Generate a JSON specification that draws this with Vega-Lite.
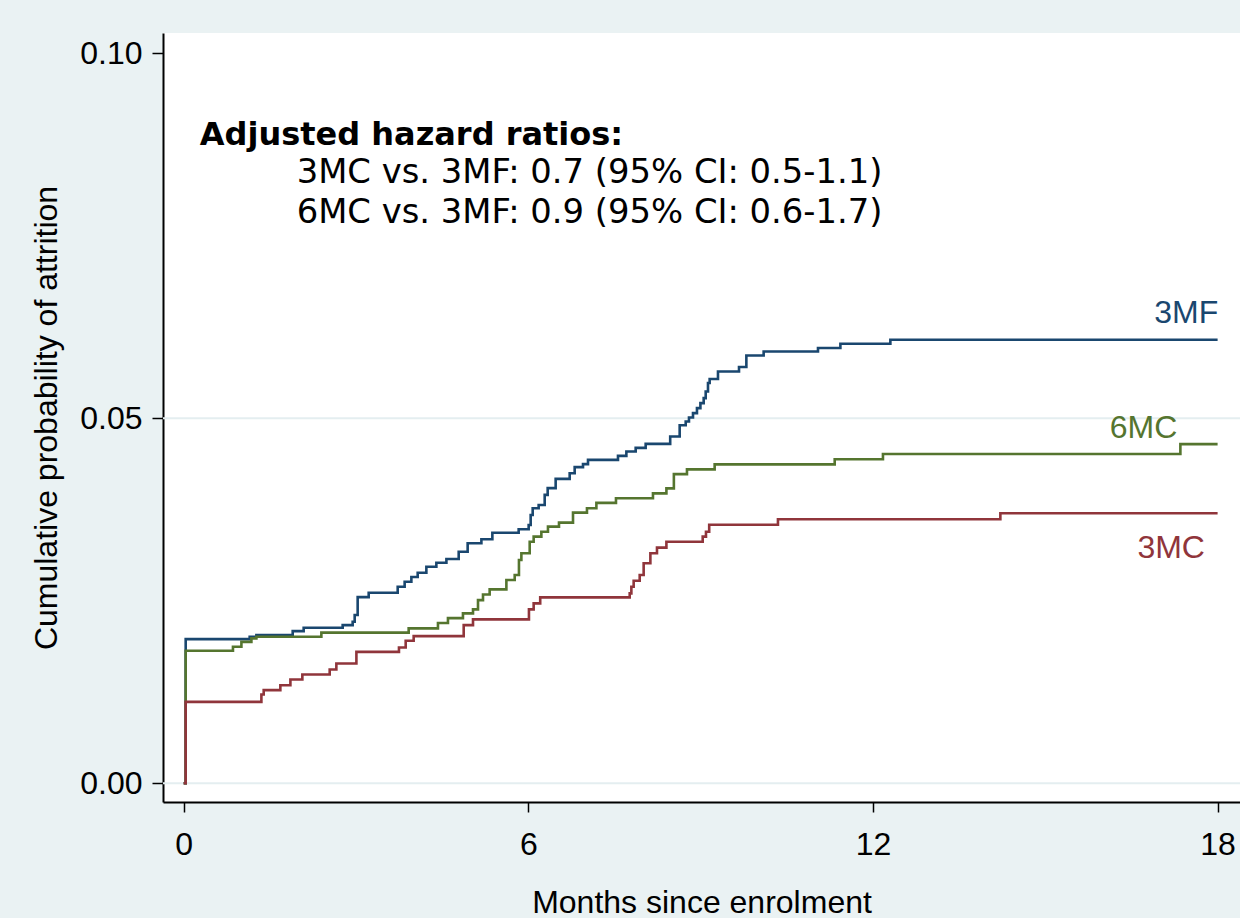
{
  "$schema": "https://vega.github.io/schema/vega-lite/v6.json",
  "width": 1077,
  "height": 769,
  "autosize": {"type": "none"},
  "padding": {"left": 163, "top": 33, "right": 0, "bottom": 116},
  "background": "#EAF2F3",
  "view": {"stroke": null, "fill": "white"},
  "config": {
    "axis": {
      "labelFont": "Liberation Sans", "titleFont": "Liberation Sans",
      "labelFontSize": 32, "titleFontSize": 32, "titleFontWeight": "normal",
      "labelColor": "black", "titleColor": "black",
      "domainColor": "black", "domainWidth": 2, "tickColor": "black", "tickWidth": 1.5
    }
  },
  "datasets": {
    "curves": [
      {"group": "3MF", "month": 0, "prob": 0},
      {"group": "3MF", "month": 0.035, "prob": 0.01975},
      {"group": "3MF", "month": 1.149, "prob": 0.02007},
      {"group": "3MF", "month": 1.266, "prob": 0.0203},
      {"group": "3MF", "month": 1.898, "prob": 0.02085},
      {"group": "3MF", "month": 2.089, "prob": 0.0213},
      {"group": "3MF", "month": 2.768, "prob": 0.02167},
      {"group": "3MF", "month": 2.942, "prob": 0.02213},
      {"group": "3MF", "month": 2.977, "prob": 0.02305},
      {"group": "3MF", "month": 3.029, "prob": 0.02551},
      {"group": "3MF", "month": 3.221, "prob": 0.0261},
      {"group": "3MF", "month": 3.726, "prob": 0.02693},
      {"group": "3MF", "month": 3.847, "prob": 0.02761},
      {"group": "3MF", "month": 3.964, "prob": 0.02826},
      {"group": "3MF", "month": 4.074, "prob": 0.02885},
      {"group": "3MF", "month": 4.225, "prob": 0.02967},
      {"group": "3MF", "month": 4.399, "prob": 0.03022},
      {"group": "3MF", "month": 4.574, "prob": 0.03073},
      {"group": "3MF", "month": 4.788, "prob": 0.03173},
      {"group": "3MF", "month": 4.944, "prob": 0.03288},
      {"group": "3MF", "month": 5.183, "prob": 0.03343},
      {"group": "3MF", "month": 5.374, "prob": 0.03433},
      {"group": "3MF", "month": 5.832, "prob": 0.0348},
      {"group": "3MF", "month": 6.006, "prob": 0.03539},
      {"group": "3MF", "month": 6.041, "prob": 0.03676},
      {"group": "3MF", "month": 6.076, "prob": 0.03768},
      {"group": "3MF", "month": 6.18, "prob": 0.03813},
      {"group": "3MF", "month": 6.285, "prob": 0.03951},
      {"group": "3MF", "month": 6.337, "prob": 0.04043},
      {"group": "3MF", "month": 6.476, "prob": 0.0417},
      {"group": "3MF", "month": 6.72, "prob": 0.04248},
      {"group": "3MF", "month": 6.807, "prob": 0.04331},
      {"group": "3MF", "month": 6.952, "prob": 0.04372},
      {"group": "3MF", "month": 7.039, "prob": 0.04431},
      {"group": "3MF", "month": 7.561, "prob": 0.04486},
      {"group": "3MF", "month": 7.707, "prob": 0.04545},
      {"group": "3MF", "month": 7.869, "prob": 0.04595},
      {"group": "3MF", "month": 8.043, "prob": 0.0465},
      {"group": "3MF", "month": 8.47, "prob": 0.0475},
      {"group": "3MF", "month": 8.635, "prob": 0.04904},
      {"group": "3MF", "month": 8.74, "prob": 0.04956},
      {"group": "3MF", "month": 8.797, "prob": 0.05011},
      {"group": "3MF", "month": 8.867, "prob": 0.05071},
      {"group": "3MF", "month": 8.936, "prob": 0.0514},
      {"group": "3MF", "month": 8.996, "prob": 0.05208},
      {"group": "3MF", "month": 9.053, "prob": 0.05277},
      {"group": "3MF", "month": 9.088, "prob": 0.05368},
      {"group": "3MF", "month": 9.128, "prob": 0.05483},
      {"group": "3MF", "month": 9.157, "prob": 0.05538},
      {"group": "3MF", "month": 9.302, "prob": 0.05642},
      {"group": "3MF", "month": 9.668, "prob": 0.05702},
      {"group": "3MF", "month": 9.796, "prob": 0.05861},
      {"group": "3MF", "month": 10.097, "prob": 0.05916},
      {"group": "3MF", "month": 11.043, "prob": 0.05963},
      {"group": "3MF", "month": 11.433, "prob": 0.06022},
      {"group": "3MF", "month": 12.303, "prob": 0.06077},
      {"group": "3MF", "month": 18, "prob": 0.06077},
      {"group": "6MC", "month": 0, "prob": 0},
      {"group": "6MC", "month": 0.035, "prob": 0.01815},
      {"group": "6MC", "month": 0.858, "prob": 0.0187},
      {"group": "6MC", "month": 1.005, "prob": 0.01938},
      {"group": "6MC", "month": 1.179, "prob": 0.01985},
      {"group": "6MC", "month": 1.266, "prob": 0.02007},
      {"group": "6MC", "month": 2.397, "prob": 0.02064},
      {"group": "6MC", "month": 3.917, "prob": 0.02122},
      {"group": "6MC", "month": 4.427, "prob": 0.02195},
      {"group": "6MC", "month": 4.601, "prob": 0.02263},
      {"group": "6MC", "month": 4.862, "prob": 0.02328},
      {"group": "6MC", "month": 5.037, "prob": 0.02383},
      {"group": "6MC", "month": 5.124, "prob": 0.0251},
      {"group": "6MC", "month": 5.211, "prob": 0.02586},
      {"group": "6MC", "month": 5.327, "prob": 0.02657},
      {"group": "6MC", "month": 5.618, "prob": 0.02785},
      {"group": "6MC", "month": 5.763, "prob": 0.02853},
      {"group": "6MC", "month": 5.837, "prob": 0.03059},
      {"group": "6MC", "month": 5.879, "prob": 0.03151},
      {"group": "6MC", "month": 6.024, "prob": 0.0331},
      {"group": "6MC", "month": 6.093, "prob": 0.03379},
      {"group": "6MC", "month": 6.227, "prob": 0.03447},
      {"group": "6MC", "month": 6.342, "prob": 0.03516},
      {"group": "6MC", "month": 6.534, "prob": 0.03571},
      {"group": "6MC", "month": 6.778, "prob": 0.03708},
      {"group": "6MC", "month": 7.021, "prob": 0.03768},
      {"group": "6MC", "month": 7.185, "prob": 0.03841},
      {"group": "6MC", "month": 7.526, "prob": 0.03905},
      {"group": "6MC", "month": 8.17, "prob": 0.03971},
      {"group": "6MC", "month": 8.404, "prob": 0.0404},
      {"group": "6MC", "month": 8.534, "prob": 0.04236},
      {"group": "6MC", "month": 8.762, "prob": 0.043},
      {"group": "6MC", "month": 9.244, "prob": 0.04369},
      {"group": "6MC", "month": 11.334, "prob": 0.0444},
      {"group": "6MC", "month": 12.174, "prob": 0.0451},
      {"group": "6MC", "month": 17.352, "prob": 0.04646},
      {"group": "6MC", "month": 18, "prob": 0.04646},
      {"group": "3MC", "month": 0, "prob": 0},
      {"group": "3MC", "month": 0.035, "prob": 0.01115},
      {"group": "3MC", "month": 1.353, "prob": 0.01217},
      {"group": "3MC", "month": 1.393, "prob": 0.01276},
      {"group": "3MC", "month": 1.683, "prob": 0.01344},
      {"group": "3MC", "month": 1.858, "prob": 0.01422},
      {"group": "3MC", "month": 2.066, "prob": 0.01491},
      {"group": "3MC", "month": 2.542, "prob": 0.0156},
      {"group": "3MC", "month": 2.658, "prob": 0.01642},
      {"group": "3MC", "month": 3.007, "prob": 0.01801},
      {"group": "3MC", "month": 3.748, "prob": 0.01861},
      {"group": "3MC", "month": 3.865, "prob": 0.01952},
      {"group": "3MC", "month": 4.004, "prob": 0.02016},
      {"group": "3MC", "month": 4.875, "prob": 0.02167},
      {"group": "3MC", "month": 5.037, "prob": 0.02246},
      {"group": "3MC", "month": 6.011, "prob": 0.02383},
      {"group": "3MC", "month": 6.093, "prob": 0.02465},
      {"group": "3MC", "month": 6.207, "prob": 0.02547},
      {"group": "3MC", "month": 7.765, "prob": 0.02602},
      {"group": "3MC", "month": 7.794, "prob": 0.02693},
      {"group": "3MC", "month": 7.834, "prob": 0.02775},
      {"group": "3MC", "month": 7.939, "prob": 0.02853},
      {"group": "3MC", "month": 8.008, "prob": 0.03014},
      {"group": "3MC", "month": 8.125, "prob": 0.03151},
      {"group": "3MC", "month": 8.24, "prob": 0.03228},
      {"group": "3MC", "month": 8.404, "prob": 0.0331},
      {"group": "3MC", "month": 9.036, "prob": 0.03379},
      {"group": "3MC", "month": 9.093, "prob": 0.03447},
      {"group": "3MC", "month": 9.149, "prob": 0.03542},
      {"group": "3MC", "month": 10.346, "prob": 0.03617},
      {"group": "3MC", "month": 14.218, "prob": 0.037},
      {"group": "3MC", "month": 18, "prob": 0.037}
    ],
    "grid": [
      {"prob": 0},
      {"prob": 0.05}
    ],
    "labels": [
      {"group": "3MF", "month": 18.01, "prob": 0.0631},
      {"group": "6MC", "month": 17.3, "prob": 0.04733},
      {"group": "3MC", "month": 17.78, "prob": 0.03089}
    ],
    "heading": [
      {"text": "Adjusted hazard ratios:", "month": 0.28, "prob": 0.0874}
    ],
    "ratios": [
      {"text": "3MC vs. 3MF: 0.7 (95% CI: 0.5-1.1)", "month": 1.967, "prob": 0.0823},
      {"text": "6MC vs. 3MF: 0.9 (95% CI: 0.6-1.7)", "month": 1.967, "prob": 0.0768}
    ]
  },
  "encoding": {
    "x": {
      "field": "month", "type": "quantitative",
      "scale": {"domain": [-0.36, 18.39], "nice": false, "zero": false},
      "axis": {"title": "Months since enrolment", "values": [0, 6, 12, 18], "format": "d",
               "grid": false, "tickSize": 10, "labelPadding": 17, "titlePadding": 27,
               "labelFlush": false}
    },
    "y": {
      "field": "prob", "type": "quantitative",
      "scale": {"domain": [-0.00256, 0.10278], "nice": false, "zero": false},
      "axis": {"title": "Cumulative probability of attrition", "values": [0, 0.05, 0.1], "format": ".2f",
               "grid": false, "tickSize": 11, "labelPadding": 10, "titlePadding": 16, "labelFlush": false}
    }
  },
  "layer": [
    {
      "data": {"name": "grid"},
      "mark": {"type": "rule", "color": "#E4EEF0", "strokeWidth": 2},
      "encoding": {"x": null}
    },
    {
      "data": {"name": "curves"},
      "mark": {"type": "line", "interpolate": "step-after", "strokeWidth": 2.6},
      "encoding": {
        "color": {"field": "group", "type": "nominal", "legend": null,
                  "scale": {"domain": ["3MF", "6MC", "3MC"], "range": ["#1A476F", "#55752F", "#90353B"]}},
        "detail": {"field": "group"}
      }
    },
    {
      "data": {"name": "labels"},
      "mark": {"type": "text", "align": "right", "baseline": "alphabetic", "font": "Liberation Sans", "fontSize": 32},
      "encoding": {
        "text": {"field": "group"},
        "color": {"field": "group", "type": "nominal", "legend": null,
                  "scale": {"domain": ["3MF", "6MC", "3MC"], "range": ["#1A476F", "#55752F", "#90353B"]}}
      }
    },
    {
      "data": {"name": "heading"},
      "mark": {"type": "text", "align": "left", "baseline": "alphabetic", "font": "DejaVu Sans", "fontWeight": "bold", "fontSize": 32, "color": "black"},
      "encoding": {"text": {"field": "text"}}
    },
    {
      "data": {"name": "ratios"},
      "mark": {"type": "text", "align": "left", "baseline": "alphabetic", "font": "DejaVu Sans", "fontSize": 33.8, "color": "black"},
      "encoding": {"text": {"field": "text"}}
    }
  ]
}
